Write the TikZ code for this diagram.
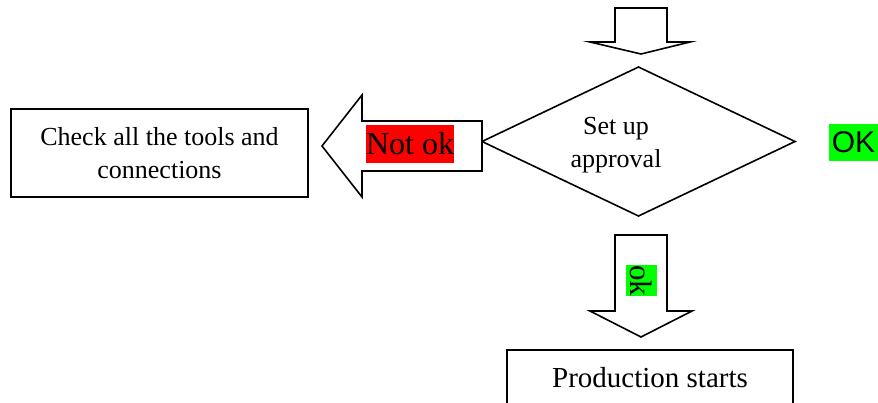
\documentclass[tikz,border=0pt]{standalone}
\usepackage{fontspec}
\setmainfont{Liberation Serif}
\newfontfamily\arialfont{Liberation Sans}
\usetikzlibrary{shapes.geometric}
\definecolor{okgreen}{RGB}{0,255,0}
\definecolor{nokred}{RGB}{255,0,0}
\begin{document}
\begin{tikzpicture}[x=1pt,y=-1pt, line width=1.6pt, line join=miter,
  blockarrow/.style={draw=black, fill=white},
  boxnode/.style={draw=black, fill=white, inner sep=0pt},
  txt/.style={font=\fontsize{26}{33}\selectfont, align=center, inner sep=0pt},
  flag/.style={inner sep=0pt, text=black}]
\useasboundingbox (0,0) rectangle (878,402);
\clip (0,0) rectangle (878,402);

% incoming block arrow (top)
\coordinate (topA) at (641,8);
\draw[blockarrow] (615,8) -- (667,8) -- (667,42) -- (690,42) -- (641,54) -- (590,42) -- (615,42) -- cycle;

% decision
\node[draw=black, diamond, minimum width=313pt, minimum height=149pt, inner sep=0pt, outer sep=0pt] (dec) at (638.5,141.5) {};
\node[txt] (dectxt) at (616,145.5) {Set up\\approval};

% left block arrow (Not ok)
\coordinate (leftA) at (482,146);
\draw[blockarrow] (482,121) -- (362,121) -- (362,95) -- (322,146) -- (362,197) -- (362,171) -- (482,171) -- cycle;
\node[flag, fill=nokred, minimum width=88pt, minimum height=38pt, font=\fontsize{32}{38}\selectfont] (notok) at (410,144) {Not ok};

% check box
\node[boxnode, txt, minimum width=297pt, minimum height=88pt] (check) at (159.5,153) {Check all the tools and\\connections};

% OK label at right
\node[flag, fill=okgreen, minimum width=49pt, minimum height=37pt, font=\arialfont\fontsize{30}{36}\selectfont] (okR) at (853.5,142.5) {OK};

% down block arrow (ok)
\draw[blockarrow] (615,235) -- (667,235) -- (667,311) -- (692,311) -- (641,337) -- (590,311) -- (615,311) -- cycle;
\node[flag, fill=okgreen, minimum width=31pt, minimum height=31pt, rotate=-90, font=\fontsize{31}{34}\selectfont] (okD) at (641.5,280.5) {ok};

% production box
\node[boxnode, minimum width=286pt, minimum height=80pt, anchor=north] (prod) at (650,349) {};
\node[inner sep=0pt, anchor=base, font=\fontsize{29}{35}\selectfont] (prodtxt) at (650,387) {Production starts};
\end{tikzpicture}
\end{document}
